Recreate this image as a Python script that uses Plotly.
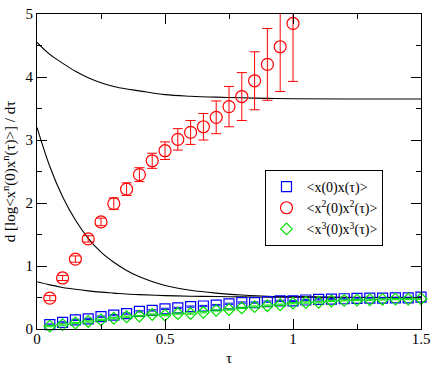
import plotly.graph_objects as go

# ── Data ─────────────────────────────────────────────────
tau = [round(0.05 * i, 2) for i in range(1, 31)]
tau_red = tau[:20]

x1x1 = [0.07, 0.105, 0.145, 0.16, 0.195, 0.22, 0.245, 0.28, 0.295, 0.32,
        0.335, 0.355, 0.365, 0.38, 0.40, 0.42, 0.42, 0.435, 0.445, 0.445,
        0.46, 0.47, 0.475, 0.48, 0.485, 0.49, 0.49, 0.495, 0.495, 0.505]
x1x1_err = [0.01] * 30

x2x2 = [0.49, 0.81, 1.11, 1.43, 1.70, 1.99, 2.22, 2.45, 2.67, 2.83,
        3.01, 3.12, 3.21, 3.36, 3.53, 3.69, 3.94, 4.20, 4.48, 4.85]
x2x2_err = [0.04, 0.04, 0.05, 0.05, 0.06, 0.09, 0.10, 0.11, 0.12, 0.14,
            0.17, 0.19, 0.21, 0.26, 0.32, 0.38, 0.46, 0.57, 0.71, 0.92]

x3x3 = [0.045, 0.07, 0.095, 0.12, 0.145, 0.17, 0.195, 0.205, 0.23, 0.22,
        0.245, 0.245, 0.265, 0.295, 0.31, 0.335, 0.355, 0.37, 0.385, 0.41,
        0.42, 0.425, 0.445, 0.455, 0.46, 0.465, 0.47, 0.475, 0.475, 0.48]
x3x3_err = [0.01] * 30

# black reference curves
curve_tau = [0.0, 0.05, 0.1, 0.15, 0.2, 0.25, 0.3, 0.35, 0.4, 0.5, 0.6, 0.7, 0.8, 0.9, 1.0, 1.2, 1.5]
curve_top = [4.55, 4.36, 4.22, 4.09, 3.99, 3.91, 3.85, 3.81, 3.78, 3.72, 3.695, 3.68, 3.67, 3.66, 3.655, 3.65, 3.65]
curve_mid = [3.20, 2.58, 2.10, 1.73, 1.44, 1.22, 1.06, 0.93, 0.83, 0.69, 0.615, 0.57, 0.54, 0.52, 0.515, 0.505, 0.50]
curve_low = [0.75, 0.70, 0.66, 0.63, 0.605, 0.585, 0.57, 0.555, 0.545, 0.53, 0.52, 0.515, 0.51, 0.505, 0.503, 0.50, 0.50]

SERIF = "Liberation Serif, Times New Roman, Times, serif"

fig = go.Figure()

for ys in (curve_top, curve_mid, curve_low):
    fig.add_trace(go.Scatter(
        x=curve_tau, y=ys, mode="lines",
        line=dict(color="black", width=1.1, shape="spline"),
        showlegend=False, hoverinfo="skip",
    ))

fig.add_trace(go.Scatter(
    x=tau, y=x1x1, mode="markers", name="&lt;x(0)x(τ)&gt;", cliponaxis=False,
    marker=dict(symbol="square-open", size=10, color="#0000ff", line=dict(width=1.2)),
    error_y=dict(type="data", array=x1x1_err, color="#0000ff", thickness=1, width=4),
))
fig.add_trace(go.Scatter(
    x=tau_red, y=x2x2, mode="markers", name="&lt;x<sup>2</sup>(0)x<sup>2</sup>(τ)&gt;",
    marker=dict(symbol="circle-open", size=12, color="#ff0000", line=dict(width=1.2)),
    error_y=dict(type="data", array=x2x2_err, color="#ff0000", thickness=1, width=5),
))
fig.add_trace(go.Scatter(
    x=tau, y=x3x3, mode="markers", name="&lt;x<sup>3</sup>(0)x<sup>3</sup>(τ)&gt;", cliponaxis=False,
    marker=dict(symbol="diamond-open", size=9, color="#00e000", line=dict(width=1.2)),
    error_y=dict(type="data", array=x3x3_err, color="#00e000", thickness=1, width=4),
))

axis_common = dict(
    showline=True, linecolor="black", linewidth=1, mirror="ticks",
    ticks="inside", ticklen=10, tickcolor="black", tickwidth=1,
    showgrid=False, zeroline=False, ticklabeloverflow="allow",
    tickfont=dict(family=SERIF, size=15, color="black"),
)

fig.update_layout(
    width=436, height=370,
    margin=dict(l=37, r=11, t=6, b=32),
    paper_bgcolor="white", plot_bgcolor="white",
    font=dict(family=SERIF, color="black"),
    xaxis=dict(
        **axis_common, range=[0, 1.5], dtick=0.5, tick0=0, ticklabelstandoff=-4,
        minor=dict(ticks="inside", ticklen=5, dtick=0.25, tickcolor="black"),
        title=dict(text="τ", font=dict(family=SERIF, size=15), standoff=6),
    ),
    yaxis=dict(
        **axis_common, range=[0, 5], dtick=1, tick0=0,
        minor=dict(ticks="inside", ticklen=5, dtick=0.5, tickcolor="black"),
        title=dict(text="d [log&lt;x<sup>n</sup>(0)x<sup>n</sup>(τ)&gt;] / dτ",
                   font=dict(family=SERIF, size=15), standoff=8),
    ),
    legend=dict(
        x=0.595, y=0.505, xanchor="left", yanchor="top",
        bordercolor="black", borderwidth=1, bgcolor="white",
        font=dict(family=SERIF, size=14, color="black"),
        tracegroupgap=0, itemwidth=30,
    ),
    showlegend=True,
)

fig.write_html("out.html", config={"displayModeBar": False},
               post_script="document.body.style.margin='0';")
